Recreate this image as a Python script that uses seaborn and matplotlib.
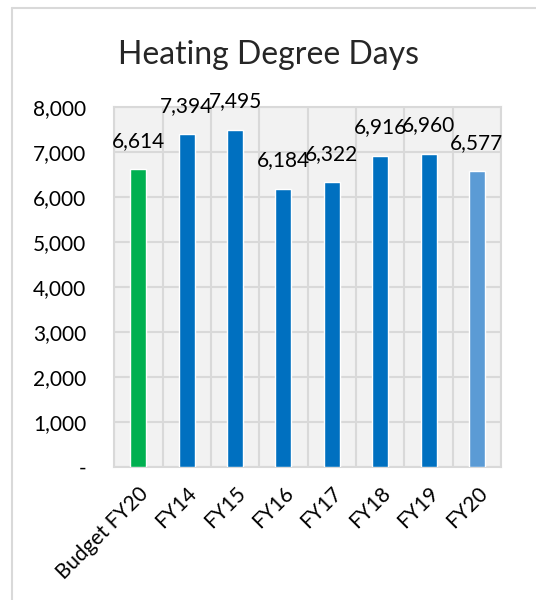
import matplotlib.pyplot as plt
import seaborn as sns
import pandas as pd
from matplotlib.ticker import FuncFormatter, MultipleLocator
from matplotlib.lines import Line2D

# Chart data
categories = ["Budget FY20", "FY14", "FY15", "FY16", "FY17", "FY18", "FY19", "FY20"]
hdd_values = [6614, 7394, 7495, 6184, 6322, 6916, 6960, 6577]
bar_colors = ["#00B050", "#0070C0", "#0070C0", "#0070C0", "#0070C0", "#0070C0", "#0070C0", "#5B9BD5"]

df = pd.DataFrame({"period": categories, "hdd": hdd_values})

sns.set_style("white")
plt.rcParams['font.family'] = ['Lato', 'DejaVu Sans']

fig = plt.figure(figsize=(5.36, 6), dpi=100)
ax = fig.add_axes([0.213, 0.222, 0.722, 0.6])
ax.set_facecolor("#F2F2F2")

sns.barplot(data=df, x="period", y="hdd", hue="period", palette=bar_colors,
            legend=False, width=0.33, saturation=1, ax=ax, zorder=3)

# grid: horizontal at each 1000, vertical between categories
ax.set_ylim(0, 8000)
ax.set_xlim(-0.5, len(categories) - 0.5)
ax.yaxis.set_major_locator(MultipleLocator(1000))
ax.yaxis.set_major_formatter(FuncFormatter(lambda v, p: "-" if v == 0 else f"{int(v):,}"))
ax.set_xticks(range(len(categories)))
ax.set_xticks([i - 0.5 for i in range(len(categories) + 1)], minor=True)
ax.grid(True, which="major", axis="y", color="#D9D9D9", linewidth=1.5, zorder=0)
ax.grid(True, which="minor", axis="x", color="#D9D9D9", linewidth=1.5, zorder=0)
ax.set_axisbelow(True)
for s in ax.spines.values():
    s.set_color("#D9D9D9")
    s.set_linewidth(1.5)

ax.tick_params(axis="both", which="both", length=0, labelsize=15, colors="black")
ax.tick_params(axis="y", pad=20)
ax.tick_params(axis="x", pad=12)
ax.set_xticklabels(categories, rotation=45, ha="right", rotation_mode="anchor")
ax.set_xlabel("")
ax.set_ylabel("")

# data labels
for i, v in enumerate(hdd_values):
    ax.annotate(f"{v:,}", (i, v), xytext=(0, 13), textcoords="offset points",
                ha="center", va="bottom", fontsize=15, color="black", zorder=5)

fig.text(0.5, 0.908, "Heating Degree Days", ha="center", va="center", fontsize=23)

# outer chart border
fig.add_artist(Line2D([12 / 536, 12 / 536], [0, 1 - 8 / 600], color="#D9D9D9", linewidth=1.5))
fig.add_artist(Line2D([12 / 536, 1], [1 - 8 / 600, 1 - 8 / 600], color="#D9D9D9", linewidth=1.5))

fig.savefig("out.png", dpi=100, facecolor="white")
